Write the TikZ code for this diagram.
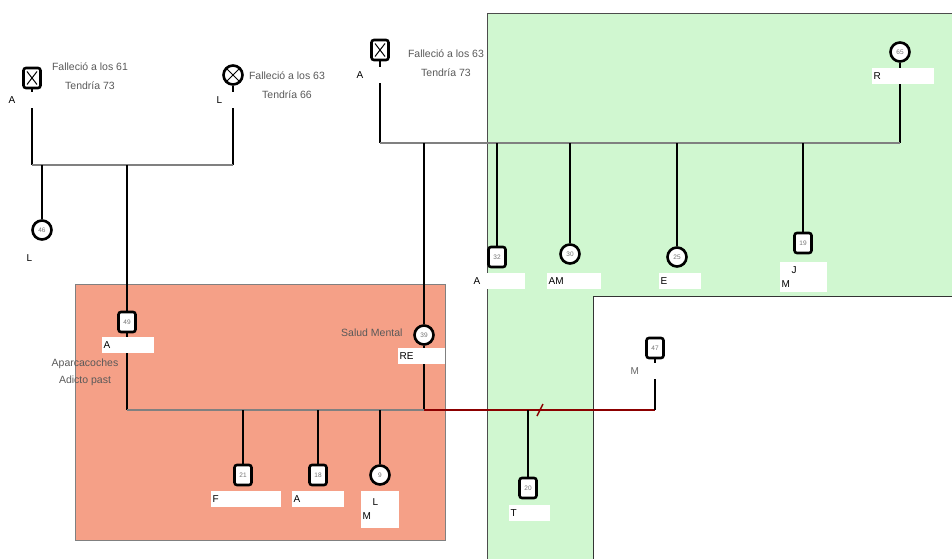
\documentclass[tikz,border=0pt]{standalone}
\usepackage{fontspec}
\setmainfont{Liberation Sans}
\usetikzlibrary{positioning}
\definecolor{greenbg}{RGB}{208,247,208}
\definecolor{salmonbg}{RGB}{245,160,135}
\definecolor{exred}{RGB}{140,0,0}

\begin{document}
\begin{tikzpicture}[x=1pt, y=-1pt,
  male/.style={rectangle, rounded corners=2.5pt, draw=black, line width=2.6pt,
    fill=white, minimum width=17pt, minimum height=20pt, inner sep=0pt,
    font=\fontsize{6.5}{7}\selectfont, text=black!55},
  female/.style={circle, draw=black, line width=2.6pt, fill=white,
    minimum size=19pt, inner sep=0pt,
    font=\fontsize{6.5}{7}\selectfont, text=black!55},
  dead/.style={path picture={
    \draw[line width=1pt]
      ([shift={(3.5pt,-3.5pt)}]path picture bounding box.north west) --
      ([shift={(-3.5pt,3.5pt)}]path picture bounding box.south east)
      ([shift={(-3.5pt,-3.5pt)}]path picture bounding box.north east) --
      ([shift={(3.5pt,3.5pt)}]path picture bounding box.south west);}},
  stem/.style={draw=black, line width=2pt},
  couple/.style={draw=gray, line width=2.6pt},
  exline/.style={draw=exred, line width=2.6pt},
  note/.style={align=center, text=black!65, font=\fontsize{10.5}{19}\selectfont},
  namebox/.style={fill=white, anchor=west, inner xsep=1.5pt, inner ysep=1pt,
    minimum height=16pt, align=left, font=\fontsize{10}{14}\selectfont}
]
  \useasboundingbox (0,0) rectangle (952,559);

  \fill[greenbg] (487,13) rectangle (952,559);
  \draw[black!70, line width=0.8pt] (952,13) -- (487,13) -- (487,559);
  \fill[white] (593,296) rectangle (952,559);
  \draw[black!80, line width=1pt] (952,296) -- (593,296) -- (593,559);
  \filldraw[fill=salmonbg, draw=black!50, line width=0.6pt] (75,284) rectangle (445,540);

  \node[male, dead]   (aL)   at (32,78)   {};
  \node[female, dead] (lL)   at (233,75)  {};
  \node[female]       (l46)  at (42,230)  {46};
  \node[male]         (a49)  at (127,322) {49};
  \node[male, dead]   (aR)   at (380,50)  {};
  \node[female]       (rR)   at (900,52)  {65};
  \node[female]       (re39) at (424,335) {39};
  \node[male]         (a32)  at (497,257) {32};
  \node[female]       (am30) at (570,254) {30};
  \node[female]       (e25)  at (677,257) {25};
  \node[male]         (j19)  at (803,243) {19};
  \node[male]         (m47)  at (655,348) {47};
  \node[male]         (f21)  at (243,475) {21};
  \node[male]         (a18)  at (318,475) {18};
  \node[female]       (l9)   at (380,475) {9};
  \node[male]         (t20)  at (528,488) {20};

  \coordinate (u1) at (0,165);
  \coordinate (u2) at (0,143);
  \coordinate (u3) at (0,410);
  \coordinate (cut) at (540,410);

  \draw[stem] (aL) -- (aL |- u1);
  \draw[stem] (lL) -- (lL |- u1);
  \draw[couple] (aL |- u1) -- (lL |- u1);
  \draw[stem] (l46 |- u1) -- (l46);
  \draw[stem] (a49 |- u1) -- (a49);

  \draw[stem] (aR) -- (aR |- u2);
  \draw[stem] (rR) -- (rR |- u2);
  \draw[couple] (aR |- u2) -- (rR |- u2);
  \foreach \kid in {re39,a32,am30,e25,j19}
    \draw[stem] (\kid |- u2) -- (\kid);

  \draw[stem] (a49) -- (a49 |- u3);
  \draw[stem] (re39) -- (re39 |- u3);
  \draw[couple] (a49 |- u3) -- (re39 |- u3);
  \foreach \kid in {f21,a18,l9}
    \draw[stem] (\kid |- u3) -- (\kid);
  \draw[exline] (re39 |- u3) -- (m47 |- u3);
  \draw[stem] (m47) -- (m47 |- u3);
  \draw[stem] (t20 |- u3) -- (t20);
  \draw[exline, line width=1.4pt] ([shift={(-3pt,-6pt)}]cut) -- ([shift={(3pt,6pt)}]cut);

  \node[note] (dAL) at (90,76)  {Falleció a los 61\\Tendría 73};
  \node[note] (dLL) at (287,85) {Falleció a los 63\\Tendría 66};
  \node[note] (dAR) at (446,63) {Falleció a los 63\\Tendría 73};
  \node[note, anchor=east] (sm) at (406,333) {Salud Mental};
  \node[note, font=\fontsize{10.5}{17}\selectfont] (job) at (85,372) {Aparcacoches\\Adicto past};

  \node[namebox, text width=30pt] (naL)   at (7,100)   {A};
  \node[namebox, text width=30pt] (nlL)   at (215,100) {L};
  \node[namebox, text width=30pt] (nl46)  at (25,258)  {L};
  \node[namebox, text width=49pt] (na49)  at (102,345) {A};
  \node[namebox, text width=44pt] (nre39) at (398,356) {RE};
  \node[namebox, text width=30pt] (naR)   at (355,75)  {A};
  \node[namebox, text width=59pt] (nrR)   at (872,76)  {R};
  \node[namebox, fill=none] (na32l) at (472,281) {A};
  \node[namebox, text width=37pt] (na32)  at (485,281) {};
  \node[namebox, text width=51pt] (nam30) at (547,281) {AM};
  \node[namebox, text width=39pt] (ne25)  at (659,281) {E};
  \node[namebox, text width=44pt, minimum height=30pt] (nj19) at (780,277) {\hspace{10pt}J\\M};
  \node[namebox, text width=40pt, text=black!60] (nm47) at (629,371) {M};
  \node[namebox, text width=67pt] (nf21)  at (211,499) {F};
  \node[namebox, text width=49pt] (na18)  at (292,499) {A};
  \node[namebox, text width=35pt, minimum height=37pt] (nl9) at (361,509) {\hspace{10pt}L\\M};
  \node[namebox, text width=38pt] (nt20)  at (509,513) {T};
\end{tikzpicture}
\end{document}
